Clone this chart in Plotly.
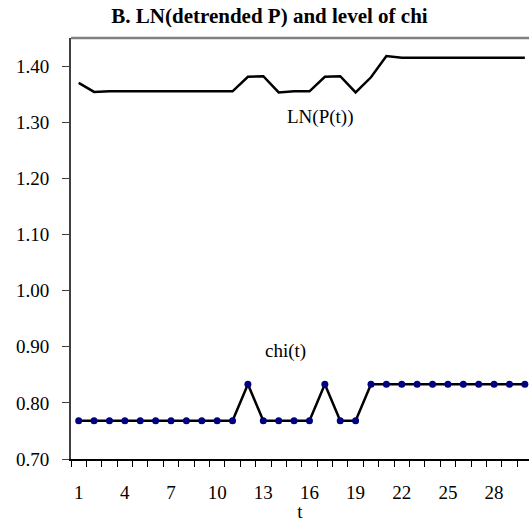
import plotly.graph_objects as go

# Period index
t = list(range(1, 31))

# LN of detrended price level
ln_p = [1.370, 1.354, 1.355, 1.355, 1.355, 1.355, 1.355, 1.355, 1.355, 1.355,
        1.355, 1.381, 1.382, 1.353, 1.355, 1.355, 1.381, 1.382, 1.353, 1.380,
        1.418, 1.415, 1.415, 1.415, 1.415, 1.415, 1.415, 1.415, 1.415, 1.415]

# Level of chi
chi = [0.768, 0.768, 0.768, 0.768, 0.768, 0.768, 0.768, 0.768, 0.768, 0.768,
       0.768, 0.833, 0.768, 0.768, 0.768, 0.768, 0.833, 0.768, 0.768, 0.833,
       0.833, 0.833, 0.833, 0.833, 0.833, 0.833, 0.833, 0.833, 0.833, 0.833]

x_labels = [str(v) for v in range(1, 31, 3)]
y_ticks = [0.70, 0.80, 0.90, 1.00, 1.10, 1.20, 1.30, 1.40]

FONT = "Liberation Serif, Times New Roman, serif"
FS = 19

fig = go.Figure()

fig.add_trace(go.Scatter(
    x=t, y=ln_p, mode="lines",
    line=dict(color="black", width=2.5),
    showlegend=False, hoverinfo="skip",
))

fig.add_trace(go.Scatter(
    x=t, y=chi, mode="lines+markers",
    line=dict(color="black", width=2.5),
    marker=dict(color="#000080", size=7),
    showlegend=False, hoverinfo="skip",
))

fig.update_layout(
    width=529, height=522,
    margin=dict(l=71, r=0, t=37.7, b=62.7),
    paper_bgcolor="white", plot_bgcolor="white",
    font=dict(family=FONT, size=FS, color="black"),
    title=dict(
        text="<b>B. LN(detrended P) and level of chi</b>",
        x=269.5 / 529, xanchor="center", y=1 - 16 / 522, yanchor="middle",
        font=dict(family=FONT, size=21, color="black"),
    ),
    xaxis=dict(
        range=[0.5, 30.27],
        tickmode="array",
        tickvals=list(range(1, 31, 3)),
        ticktext=x_labels,
        ticks="outside", ticklen=15, tickcolor="rgba(0,0,0,0)",
        showline=True, linecolor="black", linewidth=2,
        showgrid=False, zeroline=False,
        minor=dict(tickmode="array", tickvals=[v + 0.5 for v in range(0, 31)],
                   ticks="outside", ticklen=6, tickcolor="black", tickwidth=1.2),
        title=dict(text="t", standoff=3, font=dict(family=FONT, size=FS)),
        tickfont=dict(family=FONT, size=FS),
    ),
    yaxis=dict(
        range=[0.70, 1.45],
        tickmode="array",
        tickvals=y_ticks,
        tickformat=".2f",
        ticks="outside", ticklen=7, tickcolor="#404040", tickwidth=1.2,
        ticklabelstandoff=9,
        showline=True, linecolor="#404040", linewidth=2,
        showgrid=False, zeroline=False,
        tickfont=dict(family=FONT, size=FS),
    ),
    shapes=[
        dict(type="line", xref="paper", yref="paper", x0=0, x1=1, y0=1, y1=1,
             line=dict(color="#808080", width=2.5)),
    ],
    annotations=[
        dict(text="LN(P(t))", x=16.7, y=1.309, xref="x", yref="y",
             showarrow=False, font=dict(family=FONT, size=FS)),
        dict(text="chi(t)", x=14.44, y=0.892, xref="x", yref="y",
             showarrow=False, font=dict(family=FONT, size=FS)),
    ],
)

fig.write_html("out.html")
